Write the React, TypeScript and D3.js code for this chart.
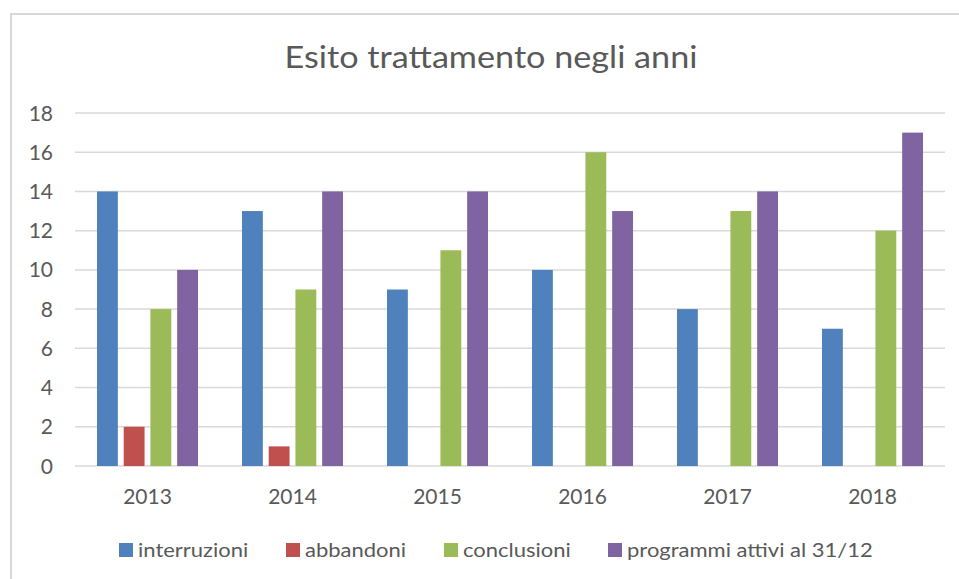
import React from "react";
import * as d3 from "d3";

const years = ["2013", "2014", "2015", "2016", "2017", "2018"];
const seriesNames = ["interruzioni", "abbandoni", "conclusioni", "programmi attivi al 31/12"];
const interruzioni = [14, 13, 9, 10, 8, 7];
const abbandoni = [2, 1, 0, 0, 0, 0];
const conclusioni = [8, 9, 11, 16, 13, 12];
const programmiAttivi = [10, 14, 14, 13, 14, 17];
const yTicks = [0, 2, 4, 6, 8, 10, 12, 14, 16, 18];
const colors = ["#4f81bd", "#c0504d", "#9bbb59", "#8064a2"];

const seriesValues = [interruzioni, abbandoni, conclusioni, programmiAttivi];

const W = 959;
const H = 579;
const plotLeft = 75;
const plotRight = 945;
const plotTop = 113;
const plotBottom = 466;
const font = "Lato, 'Open Sans', sans-serif";
const textColor = "#595959";

// legend square left edges
const legendX = [119, 286, 444, 608];

const App = () => {
  const x = d3.scaleBand().domain(years).range([plotLeft, plotRight]);
  const groupPad = 22;
  const inner = d3
    .scaleBand()
    .domain(seriesNames)
    .range([groupPad, x.bandwidth() - groupPad])
    .paddingInner(0.22);
  const y = d3.scaleLinear().domain([0, 18]).range([plotBottom, plotTop]);

  return (
    <svg
      width={W}
      height={H}
      style={{ position: "absolute", left: 0, top: 0, background: "#fff" }}
    >
      <rect x={11} y={14} width={W} height={H} fill="#fff" stroke="#d9d9d9" strokeWidth={2} />
      <g transform="translate(491,68) scale(1.14,1)">
        <text
          x={0}
          y={0}
          textAnchor="middle"
          fontFamily={font}
          fontSize={30}
          fill={textColor}
        >
          Esito trattamento negli anni
        </text>
      </g>

      {yTicks.map((t) => (
        <g key={t}>
          <line x1={plotLeft} x2={plotRight} y1={y(t)} y2={y(t)} stroke="#d9d9d9" strokeWidth={1.5} />
          <text
            x={53}
            y={y(t)}
            dy="0.36em"
            textAnchor="end"
            fontFamily={font}
            fontSize={21}
            fill={textColor}
          >
            {t}
          </text>
        </g>
      ))}

      {years.map((yr, i) => (
        <g key={yr} transform={`translate(${x(yr)},0)`}>
          {seriesNames.map((s, j) => {
            const v = seriesValues[j][i];
            if (!v) return null;
            return (
              <rect
                key={s}
                x={inner(s)}
                y={y(v)}
                width={inner.bandwidth()}
                height={y(0) - y(v)}
                fill={colors[j]}
              />
            );
          })}
          <text
            x={x.bandwidth() / 2}
            y={496}
            dy="0.36em"
            textAnchor="middle"
            fontFamily={font}
            fontSize={21}
            fill={textColor}
          >
            {yr}
          </text>
        </g>
      ))}

      {seriesNames.map((s, j) => (
        <g key={s} transform={`translate(${legendX[j]},550)`}>
          <rect x={0} y={-7} width={14} height={14} fill={colors[j]} />
          <g transform="translate(19,7) scale(1.1,1)">
            <text x={0} y={0} fontFamily={font} fontSize={20} fill={textColor}>
              {s}
            </text>
          </g>
        </g>
      ))}
    </svg>
  );
};

export default App;
